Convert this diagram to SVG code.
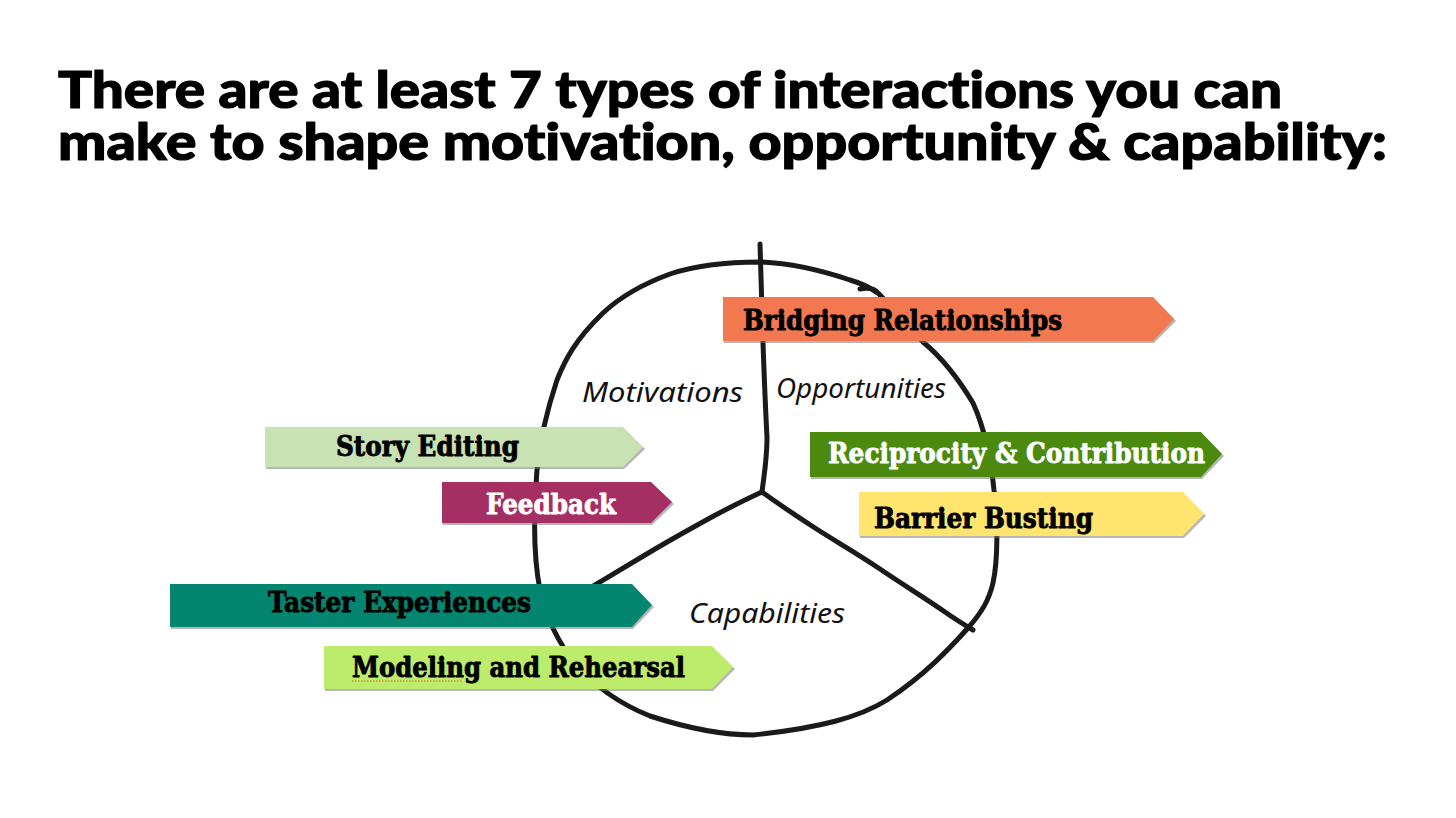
<svg xmlns="http://www.w3.org/2000/svg" width="1456" height="818" viewBox="0 0 1456 818">
<style>
.title{font-family:Lato,"Open Sans","Liberation Sans",sans-serif;font-weight:900;font-size:51px;fill:#000;stroke:#000;stroke-width:1.2;stroke-linejoin:round;font-variant-ligatures:none}
.lbl{font-family:"Noto Sans","Open Sans","Liberation Sans",sans-serif;font-style:italic;font-size:27px;fill:#111}
.tag{font-family:"DejaVu Serif","Liberation Serif",serif;font-weight:bold;font-size:27px;stroke-width:0.9;stroke-linejoin:round}
.ink{fill:none;stroke:#1a1a1a;stroke-width:5;stroke-linecap:round;stroke-linejoin:round}
.shadow{fill:#7a7a7a;opacity:0.55}
.dark{fill:#000;stroke:#000}
.light{fill:#fff;stroke:#fff}
</style>
<rect width="1456" height="818" fill="#fff"/>
<g id="title">
<text class="title" x="58" y="108" textLength="1224" lengthAdjust="spacingAndGlyphs">There are at least 7 types of interactions you can</text>
<text class="title" x="58" y="160" textLength="1329" lengthAdjust="spacingAndGlyphs">make to shape motivation, opportunity &amp; capability:</text>
</g>
<g id="connectors">
<path class="ink" d="M860,289 C868,287 875,289 879,294 C895,310 910,328 923,342 C940,356 958,378 973,403 C983,425 990,450 994,490 C998,520 998,560 993,583 C989,600 982,612 968,628 C950,648 925,675 887,700 C860,717 820,728 753,735 C720,735 687,728 650,716 C620,704 596,688 575,663 C560,645 547,620 540,590 C534,560 533,520 537,470 C540,440 547,410 557,380 C565,360 575,340 603,313 C620,297 640,285 670,274 C700,264 730,262 760,262 C790,263 820,270 850,280 C860,283 868,286 876,292"/>
<path class="ink" d="M760,244 C761,270 762,300 763,343 C764,370 765,400 767,437 C767,460 764,475 762,492"/>
<path class="ink" d="M762,492 C745,500 730,507 710,518 C690,529 670,540 645,555 C625,567 608,577 590,588"/>
<path class="ink" d="M762,492 C780,505 795,515 815,528 C835,541 855,552 880,569 C905,586 925,598 945,612 C955,619 963,624 973,630"/>
</g>
<g id="labels">
<text class="lbl" x="582" y="402" textLength="161" lengthAdjust="spacingAndGlyphs">Motivations</text>
<text class="lbl" x="776" y="398" textLength="170" lengthAdjust="spacingAndGlyphs">Opportunities</text>
<text class="lbl" x="689" y="623" textLength="156" lengthAdjust="spacingAndGlyphs">Capabilities</text>
</g>
<g id="bridging-relationships">
<polygon class="shadow" points="724,299 1154,299 1176,321 1154,343 724,343"/>
<polygon fill="#F2784F" points="723,297 1153,297 1174,319 1153,341 723,341"/>
<text class="tag dark" x="743" y="330" textLength="319" lengthAdjust="spacingAndGlyphs">Bridging Relationships</text>
</g>
<g id="story-editing">
<polygon class="shadow" points="266,429 624,429 645,449 624,469 266,469"/>
<polygon fill="#C9E2B3" points="265,427 623,427 643,447 623,467 265,467"/>
<text class="tag dark" x="336" y="456" textLength="183" lengthAdjust="spacingAndGlyphs">Story Editing</text>
</g>
<g id="feedback">
<polygon class="shadow" points="443,484 652,484 674,504 652,525 443,525"/>
<polygon fill="#A52F62" points="442,482 651,482 672,502 651,523 442,523"/>
<text class="tag light" x="486" y="514" textLength="130" lengthAdjust="spacingAndGlyphs">Feedback</text>
</g>
<g id="reciprocity-contribution">
<polygon class="shadow" points="811,434 1202,434 1224,456 1202,479 811,479"/>
<polygon fill="#4C8A0F" points="810,432 1201,432 1222,454 1201,477 810,477"/>
<text class="tag light" x="828" y="463" textLength="377" lengthAdjust="spacingAndGlyphs">Reciprocity &amp; Contribution</text>
</g>
<g id="barrier-busting">
<polygon class="shadow" points="860,494 1184,494 1206,516 1184,538 860,538"/>
<polygon fill="#FFE56E" points="859,492 1183,492 1204,514 1183,536 859,536"/>
<text class="tag dark" x="874" y="528" textLength="219" lengthAdjust="spacingAndGlyphs">Barrier Busting</text>
</g>
<g id="taster-experiences">
<polygon class="shadow" points="171,586 633,586 654,607 633,629 171,629"/>
<polygon fill="#03856F" points="170,584 632,584 652,605 632,627 170,627"/>
<text class="tag dark" x="268" y="612" textLength="263" lengthAdjust="spacingAndGlyphs">Taster Experiences</text>
</g>
<g id="modeling-rehearsal">
<polygon class="shadow" points="325,648 713,648 735,669 713,691 325,691"/>
<polygon fill="#BDEB6C" points="324,646 712,646 733,667 712,689 324,689"/>
<text class="tag dark" x="352" y="677" textLength="333" lengthAdjust="spacingAndGlyphs">Modeling and Rehearsal</text>
<line x1="352" y1="681" x2="462" y2="681" stroke="#D2691E" stroke-width="1.2" stroke-dasharray="1.5 1.5"/>
</g>
</svg>
